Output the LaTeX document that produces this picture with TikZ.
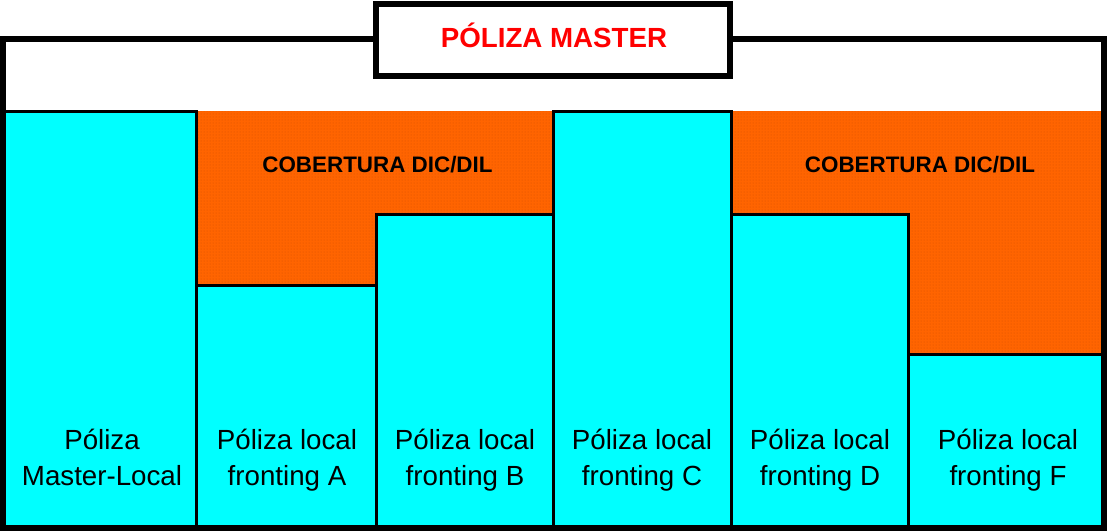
\documentclass[tikz,border=0pt]{standalone}
\usepackage{fontspec}
\setmainfont{Liberation Sans}
\usetikzlibrary{patterns}
\definecolor{cyanfill}{RGB}{0,255,255}
\definecolor{orangefill}{RGB}{255,100,0}
\definecolor{orangedot}{RGB}{215,80,0}
\definecolor{titlered}{RGB}{255,0,0}
\tikzset{
  frame/.style={draw=black, line width=6pt},
  colbox/.style={draw=black, line width=3pt, fill=cyanfill},
  cover/.style={fill=orangefill},
  coverdots/.style={pattern=dots, pattern color=orangedot},
  collabel/.style={align=center, font=\fontsize{27.7}{36}\selectfont, text=black, inner sep=0pt},
  covlabel/.style={font=\bfseries\fontsize{22.4}{26}\selectfont, text=black, inner sep=0pt, anchor=base},
  titlebox/.style={draw=black, line width=6pt, fill=white},
}
\begin{document}
\begin{tikzpicture}[x=1pt,y=-1pt]
\useasboundingbox (0,0) rectangle (1107,531);
% outer frame
\draw[frame] (3,39) rectangle (1104,528);
% orange coverage areas
\fill[cover] (196,111) rectangle (553,300);
\fill[coverdots] (196,111) rectangle (553,300);
\fill[cover] (731,111) rectangle (1101,360);
\fill[coverdots] (731,111) rectangle (1101,360);
% columns
\path[colbox] (4.5,111) rectangle (196,526.5);
\path[colbox] (196,285) rectangle (376,526.5);
\path[colbox] (376,214) rectangle (553,526.5);
\path[colbox] (553,111) rectangle (731,526.5);
\path[colbox] (731,214) rectangle (908,526.5);
\path[colbox] (908,354) rectangle (1102.5,526.5);
% re-draw outer frame on top
\draw[frame] (3,39) rectangle (1104,528);
% coverage labels
\node[covlabel] (cov1) at (377.5,172.5) {COBERTURA DIC/DIL};
\node[covlabel] (cov2) at (920,172.5) {COBERTURA DIC/DIL};
% column labels
\node[collabel, anchor=base] (l1) at (102,485) {Póliza\\Master-Local};
\node[collabel, anchor=base] (l2) at (287,485) {Póliza local\\fronting A};
\node[collabel, anchor=base] (l3) at (465,485) {Póliza local\\fronting B};
\node[collabel, anchor=base] (l4) at (642,485) {Póliza local\\fronting C};
\node[collabel, anchor=base] (l5) at (820,485) {Póliza local\\fronting D};
\node[collabel, anchor=base] (l6) at (1008,485) {Póliza local\\fronting F};
% title box
\draw[titlebox] (375.5,3.5) rectangle (729.5,75.5);
\node[font=\bfseries\fontsize{27.7}{30}\selectfont, text=titlered, anchor=base, inner sep=0pt] (title) at (554,47) {PÓLIZA MASTER};
\end{tikzpicture}
\end{document}
